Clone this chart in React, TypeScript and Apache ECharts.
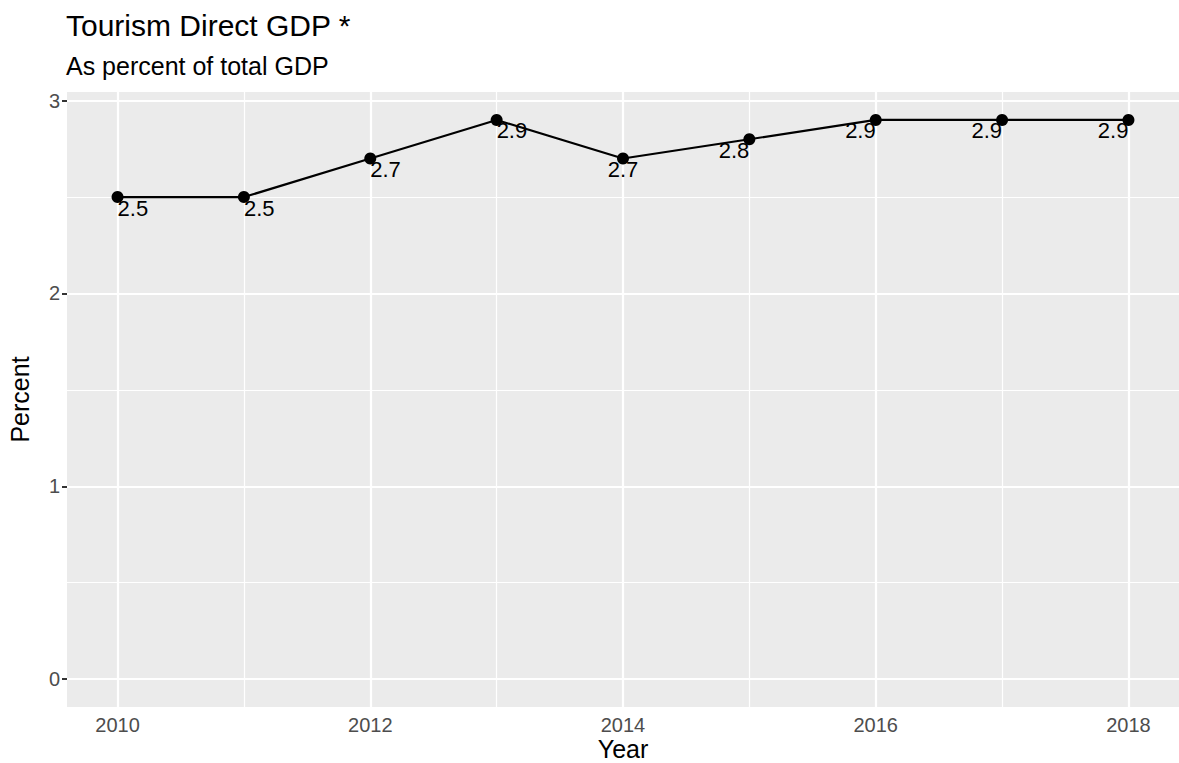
import React, { useEffect, useRef } from "react";
import * as echarts from "echarts";

const years = [2010, 2011, 2012, 2013, 2014, 2015, 2016, 2017, 2018];
const percentValues = [2.5, 2.5, 2.7, 2.9, 2.7, 2.8, 2.9, 2.9, 2.9];
const xTickValues = [2010, 2012, 2014, 2016, 2018];
const xMinorValues = [2011, 2013, 2015, 2017];
const yTickValues = [0, 1, 2, 3];
const yMinorValues = [0.5, 1.5, 2.5];

const FONT = "'Liberation Sans', Arial, sans-serif";

export default function App() {
  const ref = useRef<HTMLDivElement>(null);

  useEffect(() => {
    if (!ref.current) return;
    const chart = echarts.init(ref.current, undefined, { renderer: "svg" });

    const midYear = (years[0] + years[years.length - 1]) / 2;
    const data = years.map((y, i) => {
      const align = y < midYear ? "left" : y > midYear ? "right" : "center";
      return {
        value: [y, percentValues[i]],
        label: { align },
      };
    });

    const gridLines = (axis: "xAxis" | "yAxis", vals: number[], width: number) => ({
      type: "line",
      data: [],
      silent: true,
      z: 1,
      markLine: {
        silent: true,
        symbol: "none",
        animation: false,
        label: { show: false },
        lineStyle: { color: "#FFFFFF", width, type: "solid" },
        data: vals.map((v) => ({ [axis]: v })),
      },
    });

    chart.setOption({
      animation: false,
      backgroundColor: "#FFFFFF",
      title: {
        text: "Tourism Direct GDP *",
        subtext: "As percent of total GDP",
        left: 66,
        top: 10,
        padding: 0,
        itemGap: 13,
        textStyle: { fontFamily: FONT, fontSize: 30, fontWeight: "normal", color: "#000000" },
        subtextStyle: { fontFamily: FONT, fontSize: 25, color: "#000000" },
      },
      grid: {
        left: 67,
        right: 0,
        top: 92,
        bottom: 56,
        show: true,
        backgroundColor: "#EBEBEB",
        borderWidth: 0,
        containLabel: false,
        outerBoundsMode: "none",
      },
      xAxis: {
        type: "value",
        min: 2009.6,
        max: 2018.4,
        name: "Year",
        nameLocation: "middle",
        nameGap: 29,
        nameMoveOverlap: false,
        nameTextStyle: { fontFamily: FONT, fontSize: 25, color: "#000000", lineHeight: 25 },
        axisLine: { show: false },
        axisTick: {
          show: true,
          length: 5,
          customValues: xTickValues,
          lineStyle: { color: "#333333", width: 2 },
        },
        axisLabel: {
          customValues: xTickValues,
          fontFamily: FONT,
          fontSize: 20,
          color: "#4D4D4D",
          margin: 8,
          formatter: (v: number) => String(v),
        },
        splitLine: { show: false },
      },
      yAxis: {
        type: "value",
        min: -0.145,
        max: 3.045,
        name: "Percent",
        nameLocation: "middle",
        nameGap: 35,
        nameMoveOverlap: false,
        nameTextStyle: { fontFamily: FONT, fontSize: 25, color: "#000000" },
        axisLine: { show: false },
        axisTick: {
          show: true,
          length: 5,
          customValues: yTickValues,
          lineStyle: { color: "#333333", width: 2 },
        },
        axisLabel: {
          customValues: yTickValues,
          fontFamily: FONT,
          fontSize: 20,
          color: "#4D4D4D",
          margin: 7,
          formatter: (v: number) => String(v),
        },
        splitLine: { show: false },
      },
      series: [
        gridLines("xAxis", xMinorValues, 1.2),
        gridLines("yAxis", yMinorValues, 1.2),
        gridLines("xAxis", xTickValues, 2.2),
        gridLines("yAxis", yTickValues, 2.2),
        {
          type: "line",
          z: 5,
          data,
          symbol: "circle",
          symbolSize: 12,
          lineStyle: { color: "#000000", width: 2.2 },
          itemStyle: { color: "#000000" },
          label: {
            show: true,
            position: "inside",
            verticalAlign: "top",
            offset: [0, 0],
            fontFamily: FONT,
            fontSize: 22,
            color: "#000000",
            formatter: (p: any) => String(p.value[1]),
          },
        },
      ],
    });

    return () => chart.dispose();
  }, []);

  return (
    <div
      ref={ref}
      style={{ position: "fixed", left: 0, top: 0, width: 1179, height: 763 }}
    />
  );
}
